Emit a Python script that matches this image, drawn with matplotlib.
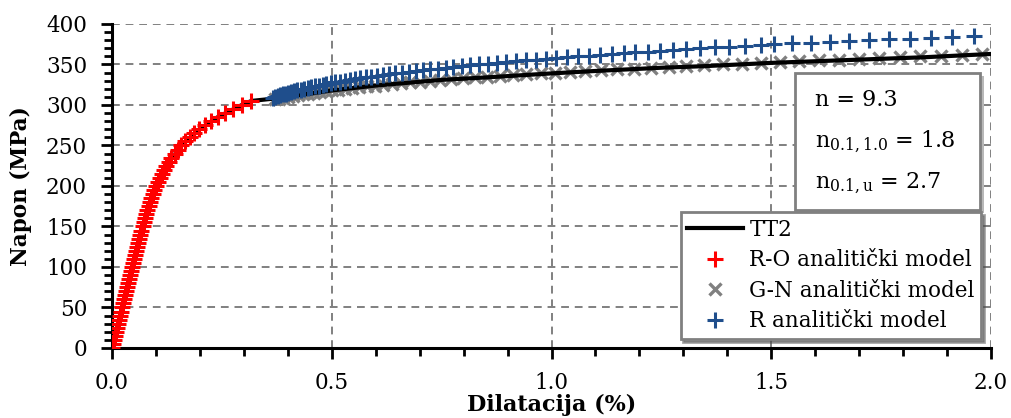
import matplotlib
matplotlib.use("Agg")
import matplotlib.pyplot as plt
from matplotlib.patches import Rectangle
from matplotlib.ticker import MultipleLocator

plt.rcParams['font.family'] = ['DejaVu Serif']
plt.rcParams['mathtext.fontset'] = 'dejavuserif'

# TT2 test curve (strain %, stress MPa)
tt2_eps = [0.0, 0.0456, 0.0694, 0.1002, 0.1233, 0.158, 0.1987, 0.2405, 0.2954, 0.3171,
           0.37, 0.45, 0.5, 0.6, 0.75, 0.85, 1.0, 1.1, 1.25, 1.35, 1.5, 1.65, 1.75, 1.85, 2.0]
tt2_sig = [0, 100, 150, 200, 225, 250, 270, 285, 300, 305,
           308, 314, 318, 324, 331, 334, 339, 342, 346, 348, 352, 355, 357, 359, 363]

# R-O analytical model
ro_sig = [0, 5, 10, 15, 20, 25, 30, 35, 40, 45, 50, 55, 60, 65, 70, 75, 80, 85, 90, 95,
          100, 105, 110, 115, 120, 125, 130, 135, 140, 145, 150, 155, 160, 165, 170, 175,
          180, 185, 190, 195, 200, 205, 210, 215, 220, 225, 230, 235, 240, 245, 250, 255,
          260, 265, 270, 275, 280, 285, 290, 295, 300, 305]
ro_eps = [0.0, 0.0023, 0.0045, 0.0068, 0.0091, 0.0114, 0.0136, 0.0159, 0.0182, 0.0205,
          0.0227, 0.025, 0.0273, 0.0295, 0.0318, 0.0341, 0.0364, 0.0387, 0.041, 0.0433,
          0.0456, 0.0479, 0.0502, 0.0525, 0.0548, 0.0572, 0.0597, 0.0621, 0.0645, 0.067,
          0.0694, 0.072, 0.0747, 0.0774, 0.0803, 0.0832, 0.0863, 0.0895, 0.0929, 0.0965,
          0.1002, 0.1043, 0.1086, 0.1131, 0.1181, 0.1233, 0.1292, 0.1353, 0.1425, 0.1499,
          0.158, 0.1669, 0.1766, 0.1872, 0.1987, 0.2115, 0.2254, 0.2406, 0.2572, 0.2754,
          0.2954, 0.3171]

# G-N analytical model
gn_sig = [307, 308, 309, 310, 311, 312, 313, 314, 315, 316, 317, 318, 319, 320, 321, 322,
          323, 324, 325, 326, 327, 328, 329, 330, 331, 332, 333, 334, 335, 336, 337, 338,
          339, 340, 341, 342, 343, 344, 345, 346, 347, 348, 349, 350, 351, 352, 353, 354,
          355, 356, 357, 358, 359, 360, 361, 362, 363]
gn_eps = [0.370, 0.380, 0.390, 0.401, 0.412, 0.423, 0.435, 0.447, 0.460, 0.473, 0.486,
          0.500, 0.515, 0.530, 0.546, 0.563, 0.580, 0.598, 0.617, 0.637, 0.657, 0.678,
          0.700, 0.723, 0.747, 0.772, 0.798, 0.825, 0.853, 0.882, 0.912, 0.943, 0.975,
          1.008, 1.042, 1.077, 1.113, 1.150, 1.188, 1.227, 1.267, 1.307, 1.348, 1.390,
          1.433, 1.476, 1.520, 1.564, 1.609, 1.654, 1.700, 1.746, 1.792, 1.839, 1.886,
          1.933, 1.980]

# R analytical model
r_sig = [309, 310, 311, 312, 313, 314, 315, 316, 317, 318, 319, 320, 321, 322, 323, 324,
         325, 326, 327, 328, 329, 330, 331, 332, 333, 334, 335, 336, 337, 338, 339, 340,
         341, 342, 343, 344, 345, 346, 347, 348, 349, 350, 351, 352, 353, 354, 355, 356,
         357, 358, 359, 360, 361, 362, 363, 364, 365, 366, 367, 368, 369, 370, 371, 372,
         373, 374, 375, 376, 377, 378, 379, 380, 381, 382, 383, 384, 385]
r_eps = [0.366, 0.371, 0.377, 0.383, 0.389, 0.395, 0.401, 0.408, 0.415, 0.422, 0.429,
         0.437, 0.445, 0.453, 0.461, 0.470, 0.479, 0.488, 0.498, 0.508, 0.519, 0.530,
         0.541, 0.553, 0.565, 0.577, 0.590, 0.603, 0.617, 0.631, 0.645, 0.660, 0.675,
         0.691, 0.707, 0.724, 0.741, 0.759, 0.777, 0.796, 0.815, 0.835, 0.855, 0.876,
         0.897, 0.919, 0.941, 0.964, 0.987, 1.011, 1.035, 1.060, 1.085, 1.111, 1.137,
         1.164, 1.191, 1.219, 1.248, 1.277, 1.307, 1.338, 1.371, 1.405, 1.440, 1.476,
         1.507, 1.548, 1.590, 1.633, 1.677, 1.722, 1.768, 1.815, 1.863, 1.912, 1.962]

params = ["n = 9.3", r"n$_{0.1,1.0}$ = 1.8", r"n$_{0.1,\mathrm{u}}$ = 2.7"]

fig = plt.figure(figsize=(10.11, 4.18), dpi=100)
ax = fig.add_axes([0.1108, 0.1675, 0.8694, 0.7751])

ax.plot(tt2_eps, tt2_sig, color='black', lw=3, label='TT2', zorder=3)
ax.plot(ro_eps, ro_sig, ls='none', marker='+', ms=11, mew=2.2, color='#ff0000',
        label='R-O analitički model', zorder=4)
ax.plot(gn_eps, gn_sig, ls='none', marker='x', ms=9, mew=2.4, color='#808080',
        label='G-N analitički model', zorder=2)
ax.plot(r_eps, r_sig, ls='none', marker='+', ms=11, mew=2.2, color='#1f4e8c',
        label='R analitički model', zorder=4)

ax.set_xlim(0, 2.0)
ax.set_ylim(0, 400)
ax.xaxis.set_major_locator(MultipleLocator(0.5))
ax.xaxis.set_minor_locator(MultipleLocator(0.1))
ax.yaxis.set_major_locator(MultipleLocator(50))
ax.yaxis.set_minor_locator(MultipleLocator(10))
ax.xaxis.set_major_formatter(matplotlib.ticker.FormatStrFormatter('%.1f'))
ax.grid(True, which='major', color='#808080', ls=(0, (4, 3)), lw=1.4, zorder=0)
ax.set_axisbelow(True)
for s in ['top', 'right']:
    ax.spines[s].set_visible(False)
for s in ['left', 'bottom']:
    ax.spines[s].set_linewidth(2.2)
ax.tick_params(which='major', direction='out', length=8, width=2, labelsize=15.5)
ax.tick_params(which='minor', direction='out', length=6, width=2)
ax.tick_params(axis='x', which='major', pad=9)
ax.tick_params(axis='y', which='major', pad=10)

ax.set_xlabel('Dilatacija (%)', fontsize=16, fontweight='bold', labelpad=0)
ax.set_ylabel('Napon (MPa)', fontsize=15.5, fontweight='bold', labelpad=10)

# parameter box with shadow
sh = Rectangle((0.782, 0.418), 0.2105, 0.423, transform=ax.transAxes,
               facecolor='#b8b8b8', edgecolor='none', zorder=5, clip_on=False)
ax.add_patch(sh)
bx = Rectangle((0.777, 0.426), 0.2105, 0.423, transform=ax.transAxes,
               facecolor='white', edgecolor='#808080', lw=2, zorder=6, clip_on=False)
ax.add_patch(bx)
for txt, yy in zip(params, [0.765, 0.637, 0.509]):
    ax.text(0.80, yy, txt, transform=ax.transAxes, fontsize=16, va='center',
            ha='left', zorder=7)

leg = ax.legend(loc='lower right', bbox_to_anchor=(0.989, 0.028), fontsize=15.5,
                frameon=True, fancybox=False, shadow=True, borderaxespad=0,
                handlelength=2.6, handletextpad=0.3, labelspacing=0.4,
                borderpad=0.3, framealpha=1)
leg.get_frame().set_edgecolor('#808080')
leg.get_frame().set_linewidth(2)
leg.set_zorder(8)

fig.savefig('out.png', dpi=100)
